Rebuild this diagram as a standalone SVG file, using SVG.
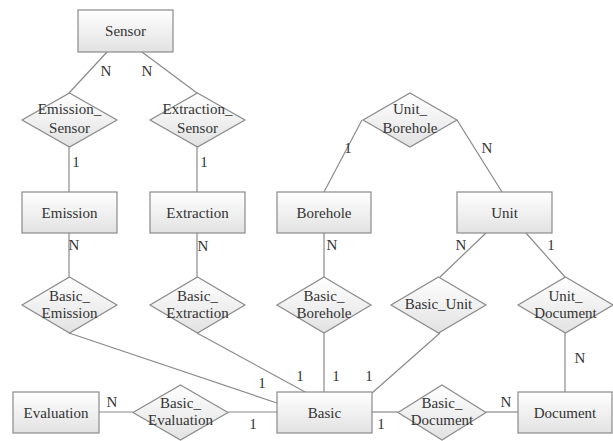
<svg xmlns="http://www.w3.org/2000/svg" width="613" height="441" viewBox="0 0 613 441">
<defs>
<linearGradient id="g" x1="0" y1="0" x2="0" y2="1">
<stop offset="0" stop-color="#ffffff"/>
<stop offset="1" stop-color="#e2e2e2"/>
</linearGradient>
</defs>
<style>
.b{fill:url(#g);stroke:#8a8a8a;stroke-width:1.2}
text{font-family:'Liberation Serif','DejaVu Serif',serif;font-size:15px;fill:#333;text-anchor:middle}
.c line{stroke:#8a8a8a;stroke-width:1.2}
</style>
<rect width="613" height="441" fill="#ffffff"/>
<g class="c" id="connectors">
<line x1="107" y1="52" x2="69" y2="93"/>
<line x1="142" y1="52" x2="197" y2="93"/>
<line x1="69" y1="147" x2="69" y2="192"/>
<line x1="197" y1="147" x2="197" y2="192"/>
<line x1="362" y1="120" x2="324" y2="192"/>
<line x1="457" y1="120" x2="502" y2="192"/>
<line x1="69" y1="233" x2="69" y2="277"/>
<line x1="197" y1="233" x2="197" y2="277"/>
<line x1="324" y1="233" x2="324" y2="277"/>
<line x1="486" y1="233" x2="440" y2="277"/>
<line x1="526" y1="233" x2="565" y2="277"/>
<line x1="69" y1="333" x2="277" y2="403"/>
<line x1="197" y1="333" x2="307" y2="393"/>
<line x1="324" y1="333" x2="324" y2="393"/>
<line x1="440" y1="333" x2="372" y2="393"/>
<line x1="565" y1="333" x2="565" y2="393"/>
<line x1="99" y1="412" x2="133" y2="412"/>
<line x1="228" y1="412" x2="277" y2="412"/>
<line x1="372" y1="412" x2="398" y2="412"/>
<line x1="486" y1="412" x2="518" y2="412"/>
</g>
<g id="labels">
<text x="106" y="76">N</text>
<text x="147" y="76">N</text>
<text x="76" y="167">1</text>
<text x="204" y="167">1</text>
<text x="348" y="153">1</text>
<text x="487" y="153">N</text>
<text x="74" y="250">N</text>
<text x="203" y="251">N</text>
<text x="332" y="250">N</text>
<text x="461" y="250">N</text>
<text x="551" y="250">1</text>
<text x="262" y="388">1</text>
<text x="300" y="381">1</text>
<text x="336" y="381">1</text>
<text x="369" y="381">1</text>
<text x="580" y="363">N</text>
<text x="112" y="407">N</text>
<text x="253" y="429">1</text>
<text x="381" y="429">1</text>
<text x="506" y="407">N</text>
</g>
<g id="Sensor"><rect class="b" x="78" y="10" width="95" height="42"/><text x="125.5" y="36">Sensor</text></g>
<g id="Emission_Sensor"><polygon class="b" points="69.5,93 117,120 69.5,147 22,120"/><text x="69.5" y="114">Emission_</text><text x="69.5" y="133">Sensor</text></g>
<g id="Extraction_Sensor"><polygon class="b" points="197.5,93 245,120 197.5,147 150,120"/><text x="197.5" y="114">Extraction_</text><text x="197.5" y="133">Sensor</text></g>
<g id="Unit_Borehole"><polygon class="b" points="410,93 457,120 410,147 363,120"/><text x="410" y="114">Unit_</text><text x="410" y="133">Borehole</text></g>
<g id="Emission"><rect class="b" x="22" y="192" width="95" height="41"/><text x="69.5" y="218">Emission</text></g>
<g id="Extraction"><rect class="b" x="150" y="192" width="95" height="41"/><text x="197.5" y="218">Extraction</text></g>
<g id="Borehole"><rect class="b" x="277" y="192" width="94" height="41"/><text x="324" y="218">Borehole</text></g>
<g id="Unit"><rect class="b" x="457" y="192" width="95" height="41"/><text x="504.5" y="218">Unit</text></g>
<g id="Basic_Emission"><polygon class="b" points="69.5,277 117,305 69.5,333 22,305"/><text x="69.5" y="301">Basic_</text><text x="69.5" y="318">Emission</text></g>
<g id="Basic_Extraction"><polygon class="b" points="197.5,277 245,305 197.5,333 150,305"/><text x="197.5" y="301">Basic_</text><text x="197.5" y="318">Extraction</text></g>
<g id="Basic_Borehole"><polygon class="b" points="324,277 371,305 324,333 277,305"/><text x="324" y="301">Basic_</text><text x="324" y="318">Borehole</text></g>
<g id="Basic_Unit"><polygon class="b" points="438.5,277 486,305 438.5,333 391,305"/><text x="438.5" y="309">Basic_Unit</text></g>
<g id="Unit_Document"><polygon class="b" points="565.5,277 613,305 565.5,333 518,305"/><text x="565.5" y="301">Unit_</text><text x="565.5" y="318">Document</text></g>
<g id="Evaluation"><rect class="b" x="13" y="392" width="86" height="41"/><text x="56" y="418">Evaluation</text></g>
<g id="Basic_Evaluation"><polygon class="b" points="180.5,385 228,412.5 180.5,440 133,412.5"/><text x="180.5" y="408">Basic_</text><text x="180.5" y="425">Evaluation</text></g>
<g id="Basic"><rect class="b" x="277" y="392" width="95" height="41"/><text x="324.5" y="418">Basic</text></g>
<g id="Basic_Document"><polygon class="b" points="442,385 486,412.5 442,440 398,412.5"/><text x="442" y="408">Basic_</text><text x="442" y="425">Document</text></g>
<g id="Document"><rect class="b" x="518" y="392" width="94" height="41"/><text x="565" y="418">Document</text></g>
</svg>
